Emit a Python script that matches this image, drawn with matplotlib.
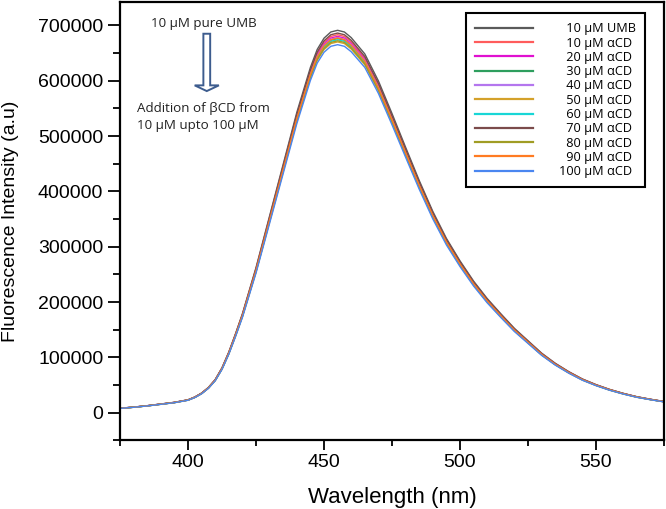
import numpy as np
import matplotlib
matplotlib.use('Agg')
import matplotlib.pyplot as plt
from matplotlib.patches import FancyArrow
from matplotlib.ticker import MultipleLocator

# common emission profile (nm, a.u.)
wl = [375, 380, 385, 390, 395, 400, 402.5, 405, 407.5, 410, 412.5, 415,
      417.5, 420, 425, 430, 435, 440, 445, 447.5, 450, 452.5, 455, 457.5,
      460, 465, 470, 475, 480, 485, 490, 495, 500, 505, 510, 515, 520, 525,
      530, 535, 540, 545, 550, 555, 560, 565, 570, 575]
base = [8000, 10000, 12500, 15500, 18500, 23000, 28000, 35000, 45000, 59000,
        80000, 108000, 141000, 176000, 258000, 350000, 442000, 534000, 614000,
        646000, 666000, 677000, 680000, 677000, 667000, 638000, 590000,
        532000, 472000, 413000, 358000, 310000, 270000, 234000, 203000,
        176000, 150000, 128000, 106000, 88000, 73000, 60000, 50000, 41500,
        34500, 28500, 24000, 20000]
base_peak = 680000

labels = ['10 µM UMB', '10 µM αCD', '20 µM αCD', '30 µM αCD', '40 µM αCD',
          '50 µM αCD', '60 µM αCD', '70 µM αCD', '80 µM αCD', '90 µM αCD',
          '100 µM αCD']
peaks = [691000, 683000, 680000, 676000, 678000, 670000, 674000, 686000,
         672000, 677000, 665000]
colors = ['#5a5a5a', '#ff5c5c', '#e010d0', '#2e9e5e', '#b476ee', '#d4a12a',
          '#18d6d6', '#7b4b4b', '#a09c24', '#ff7b22', '#4a86f0']

plt.rcParams['font.family'] = ['Liberation Sans', 'DejaVu Sans']

fig = plt.figure(figsize=(6.66, 5.09), dpi=100)
ax = fig.add_axes([0.1802, 0.1348, 0.8168, 0.8622])

wl = np.array(wl)
base = np.array(base, dtype=float)
for lab, pk, c in zip(labels, peaks, colors):
    ax.plot(wl, base * pk / base_peak, color=c, lw=1.0,
            label=lab.rjust(10, '\u2007'))

ax.set_xlim(375, 575)
ax.set_ylim(-50000, 743000)
ax.xaxis.set_major_locator(MultipleLocator(50))
ax.xaxis.set_minor_locator(MultipleLocator(25))
ax.yaxis.set_major_locator(MultipleLocator(100000))
ax.yaxis.set_minor_locator(MultipleLocator(50000))
ax.set_yticks(np.arange(0, 800000, 100000))
ax.tick_params(which='major', direction='out', length=7, width=1.3,
               labelsize=14, pad=3)
ax.tick_params(which='minor', direction='out', length=4, width=1.3)
ax.tick_params(axis='y', which='major', length=9)
ax.tick_params(axis='y', which='minor', length=5)
for s in ax.spines.values():
    s.set_linewidth(1.6)

ax.set_xlabel('Wavelength (nm)', fontsize=16, labelpad=11)
ax.set_ylabel('Fluorescence Intensity (a.u)', fontsize=14, labelpad=14)

# annotation with hollow arrow
sans = ['Open Sans', 'DejaVu Sans']
ax.text(405.9, 703000, '10 µM pure UMB', ha='center', va='center',
        fontsize=9.6, family=sans, color='#222222')
ax.add_patch(FancyArrow(406.9, 684800, 0, -103600, width=2.5, head_width=8.9,
                        head_length=10300, length_includes_head=True,
                        fc='white', ec='#3d5c8e', lw=1.4))
ax.text(381.4, 550500, 'Addition of βCD from', ha='left', va='center',
        fontsize=9.6, family=sans, color='#222222')
ax.text(381.4, 519300, '10 µM upto 100 µM', ha='left', va='center',
        fontsize=9.6, family=sans, color='#222222')

leg = ax.legend(loc='upper right', bbox_to_anchor=(0.965, 0.973),
                borderaxespad=0, fancybox=False, framealpha=1,
                edgecolor='black', handlelength=4.6, handletextpad=2.0,
                labelspacing=0.1, borderpad=0.7,
                prop={'family': sans, 'size': 9.2})
leg.get_frame().set_linewidth(1.5)
for line in leg.get_lines():
    line.set_linewidth(1.6)

fig.savefig('out.png', dpi=100)
